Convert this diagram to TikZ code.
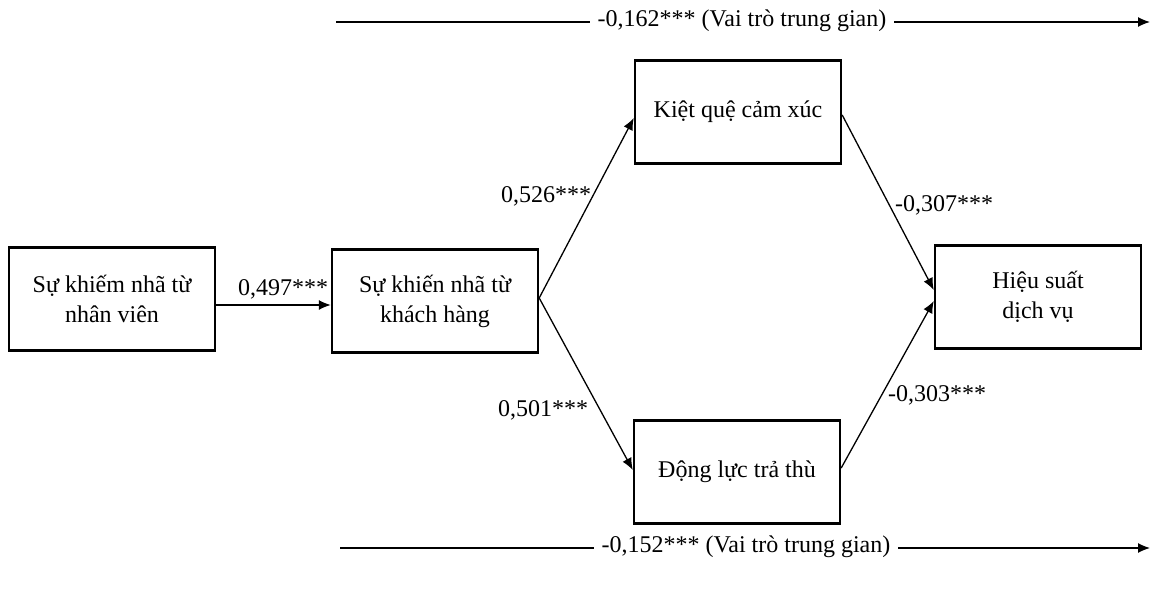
\documentclass[tikz,border=0pt]{standalone}
\usepackage{fontspec}
\setmainfont{Liberation Serif}
\usetikzlibrary{arrows.meta,calc}
\begin{document}
\begin{tikzpicture}[x=0.5pt,y=-0.5pt,
  box/.style={draw,line width=1.2pt,minimum width=103pt,minimum height=51.5pt,align=center,font=\fontsize{12}{15}\selectfont,inner sep=2pt},
  conn/.style={draw,line width=0.65pt,-{Latex[length=6pt,width=5pt]}},
  lbl/.style={font=\fontsize{12}{15}\selectfont,inner sep=1pt},
  midlbl/.style={font=\fontsize{12}{15}\selectfont,fill=white,inner sep=4pt}]
\useasboundingbox (0,0) rectangle (1162,589);
\node[box] (A) at (112,299) {Sự khiếm nhã từ\\nhân viên};
\node[box] (B) at (435,301) {Sự khiến nhã từ\\khách hàng};
\node[box] (C) at (738,112) {Kiệt quệ cảm xúc};
\node[box] (D) at (737,472) {Động lực trả thù};
\node[box] (E) at (1038,297) {Hiệu suất\\dịch vụ};
\coordinate (Bo) at ($(B.east)+(0,-3)$);
\coordinate (Ao) at ($(A.east)+(0,6)$);
\draw[conn] (Ao) -- (B.west |- Ao);
\draw[conn] (Bo) -- ($(C.west)+(0,6)$);
\draw[conn] (Bo) -- ($(D.west)+(0,-2)$);
\draw[conn] ($(C.east)+(0,3)$) -- ($(E.west)+(0,-7)$);
\draw[conn] ($(D.east)+(0,-4)$) -- ($(E.west)+(0,4)$);
\node[lbl] (l1) at (283,289) {0,497***};
\node[lbl] (l2) at (546,196) {0,526***};
\node[lbl] (l3) at (543,410) {0,501***};
\node[lbl] (l4) at (944,205) {-0,307***};
\node[lbl] (l5) at (937,395) {-0,303***};
\coordinate (t1) at (336,22);
\coordinate (t2) at (1150,22);
\draw[conn] (t1) -- (t2);
\node[midlbl] (tl) at (742,21) {-0,162*** (Vai trò trung gian)};
\coordinate (b1) at (340,548);
\coordinate (b2) at (1150,548);
\draw[conn] (b1) -- (b2);
\node[midlbl] (bl) at (746,547) {-0,152*** (Vai trò trung gian)};
\end{tikzpicture}
\end{document}
